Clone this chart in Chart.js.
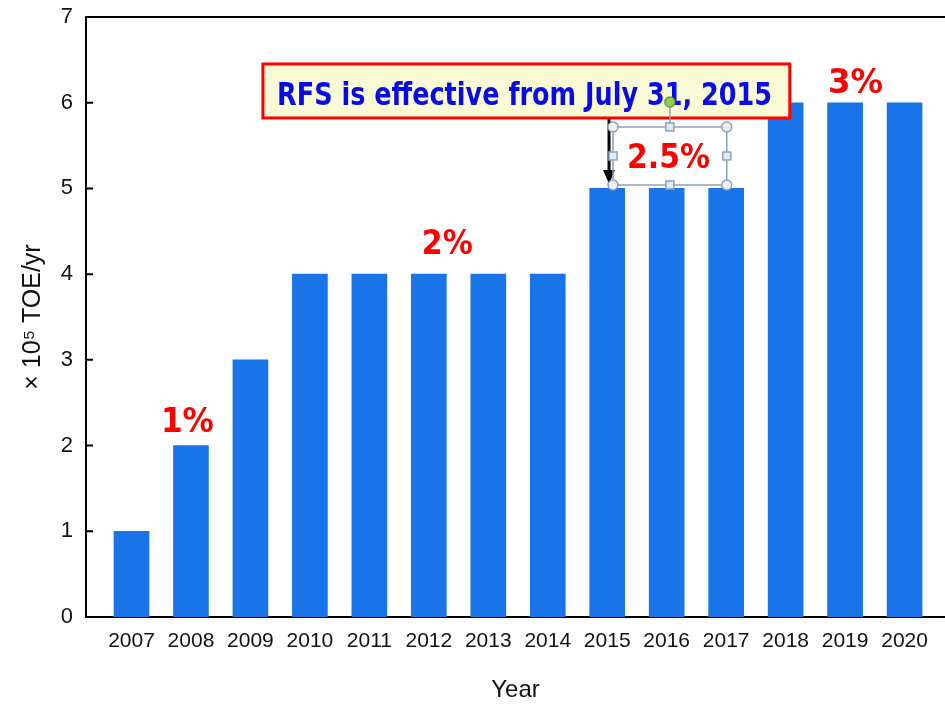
<!DOCTYPE html>
<html>
<head>
<meta charset="utf-8">
<script src="https://cdn.jsdelivr.net/npm/chart.js@4"></script>
<style>
  body { margin: 0; background: #fff; }
  canvas { display: block; }
</style>
</head>
<body>
<canvas id="barChart" width="945" height="706"></canvas>
<script>
// data
const years = [2007, 2008, 2009, 2010, 2011, 2012, 2013, 2014, 2015, 2016, 2017, 2018, 2019, 2020];
const volumes = [1, 2, 3, 4, 4, 4, 4, 4, 5, 5, 5, 6, 6, 6];
const yTicks = [0, 1, 2, 3, 4, 5, 6, 7];
const shareLabels = ['1%', '2%', '2.5%', '3%'];
const noteText = 'RFS is effective from July 31, 2015';

// text squeezed to a given width (the original uses a narrow bold face)
const drawFit = (ctx, text, cx, base, font, w, color) => {
    ctx.save();
    ctx.font = font;
    const m = ctx.measureText(text).width;
    ctx.translate(cx, base);
    ctx.scale(w / m, 1);
    ctx.fillStyle = color;
    ctx.textAlign = 'center';
    ctx.textBaseline = 'alphabetic';
    ctx.fillText(text, 0, 0);
    ctx.restore();
};

const framePlugin = {
    id: 'frame',
    afterDraw(chart) {
        const {ctx, chartArea: a, scales: {x, y}} = chart;
        const X = v => x.getPixelForValue(v);
        const Y = v => y.getPixelForValue(v);
        ctx.save();
        // top line + inward ticks
        ctx.strokeStyle = '#000';
        ctx.lineWidth = 2;
        ctx.beginPath();
        ctx.moveTo(a.left, a.top);
        ctx.lineTo(a.right, a.top);
        yTicks.slice(1, -1).forEach(t => {
            ctx.moveTo(a.left, Y(t));
            ctx.lineTo(a.left + 7, Y(t));
        });
        ctx.stroke();

        // percentage labels
        const red = '#ff0000';
        const f = 'bold 34px "DejaVu Sans"';
        drawFit(ctx, shareLabels[0], X(2007.94), Y(2.16), f, 53, red);
        drawFit(ctx, shareLabels[1], X(2012.31), Y(4.235), f, 51, red);
        drawFit(ctx, shareLabels[3], X(2019.175), Y(6.114), f, 55, red);

        // arrow down to the 2015 bar (starts under the callout)
        const ax = X(2015.03), ay0 = Y(5.915), ay1 = Y(5.052);
        ctx.strokeStyle = '#000';
        ctx.fillStyle = '#000';
        ctx.lineWidth = 3;
        ctx.beginPath();
        ctx.moveTo(ax, ay0);
        ctx.lineTo(ax, ay1 - 10);
        ctx.stroke();
        ctx.beginPath();
        ctx.moveTo(ax - 6, ay1 - 14);
        ctx.lineTo(ax + 6, ay1 - 14);
        ctx.lineTo(ax, ay1);
        ctx.closePath();
        ctx.fill();

        // callout
        const bx0 = X(2009.21), bx1 = X(2018.07), by0 = Y(6.452), by1 = Y(5.822);
        ctx.fillStyle = '#f8fbd6';
        ctx.fillRect(bx0, by0, bx1 - bx0, by1 - by0);
        ctx.strokeStyle = '#ff0000';
        ctx.lineWidth = 3;
        ctx.strokeRect(bx0, by0, bx1 - bx0, by1 - by0);
        drawFit(ctx, noteText, X(2013.61), Y(5.974), 'bold 32px "DejaVu Sans"', 495, '#0a0ae8');

        // selected text box with handles
        const sx0 = X(2015.097), sx1 = X(2017.01), sy0 = Y(5.717), sy1 = Y(5.04);
        const sxm = (sx0 + sx1) / 2, sym = (sy0 + sy1) / 2;
        drawFit(ctx, shareLabels[2], X(2016.03), Y(5.239), f, 83, red);
        ctx.strokeStyle = '#8ea2b8';
        ctx.lineWidth = 1.5;
        ctx.strokeRect(sx0, sy0, sx1 - sx0, sy1 - sy0);
        const gy = Y(6.009);
        ctx.beginPath();
        ctx.moveTo(sxm, sy0);
        ctx.lineTo(sxm, gy);
        ctx.stroke();
        [[sx0, sy0], [sx1, sy0], [sx0, sy1], [sx1, sy1]].forEach(([px, py]) => {
            ctx.beginPath();
            ctx.arc(px, py, 5, 0, Math.PI * 2);
            ctx.fillStyle = '#eef1f4';
            ctx.fill();
            ctx.stroke();
        });
        [[sxm, sy0], [sxm, sy1], [sx0, sym], [sx1, sym]].forEach(([px, py]) => {
            ctx.fillStyle = '#dcecf8';
            ctx.fillRect(px - 4, py - 4, 8, 8);
            ctx.strokeRect(px - 4, py - 4, 8, 8);
        });
        ctx.beginPath();
        ctx.arc(sxm, gy, 5, 0, Math.PI * 2);
        ctx.fillStyle = '#8fd14f';
        ctx.fill();
        ctx.strokeStyle = '#6a9e3a';
        ctx.stroke();
        ctx.restore();
    }
};

const ctxBar = document.getElementById('barChart').getContext('2d');
new Chart(ctxBar, {
    type: 'bar',
    data: {
        datasets: [{
            data: years.map((yr, i) => ({x: yr, y: volumes[i]})),
            backgroundColor: '#1874e8',
            borderWidth: 0,
            barThickness: 35
        }]
    },
    options: {
        responsive: false,
        animation: false,
        layout: {padding: {top: 17, right: 0, left: 0, bottom: 0}},
        plugins: {legend: {display: false}, tooltip: {enabled: false}},
        scales: {
            x: {
                type: 'linear',
                offset: false,
                min: 2006.235,
                max: 2020.68,
                grid: {display: false, drawTicks: false},
                border: {color: '#000', width: 2},
                afterBuildTicks: s => { s.ticks = years.map(v => ({value: v})); },
                afterFit: s => { s.height = 89; },
                ticks: {
                    color: '#111',
                    font: {family: 'Liberation Sans, Arial', size: 21},
                    padding: 12,
                    maxRotation: 0,
                    callback: v => String(v)
                },
                title: {
                    display: true,
                    text: 'Year',
                    color: '#111',
                    font: {family: 'Liberation Sans, Arial', size: 24},
                    padding: {top: 0, bottom: 1}
                }
            },
            y: {
                min: 0,
                max: 7,
                grid: {display: false, drawTicks: false},
                border: {color: '#000', width: 2},
                afterBuildTicks: s => { s.ticks = yTicks.map(v => ({value: v})); },
                afterFit: s => {
                    s.width = 86;
                    s.paddingTop = 0;
                    s.paddingBottom = 0;
                },
                ticks: {
                    color: '#111',
                    font: {family: 'Liberation Sans, Arial', size: 22},
                    padding: 13
                },
                title: {
                    display: true,
                    text: '× 10⁵ TOE/yr',
                    color: '#111',
                    font: {family: 'Liberation Sans, Arial', size: 25},
                    padding: {top: 18, bottom: 0}
                }
            }
        }
    },
    plugins: [framePlugin]
});
</script>
</body>
</html>
